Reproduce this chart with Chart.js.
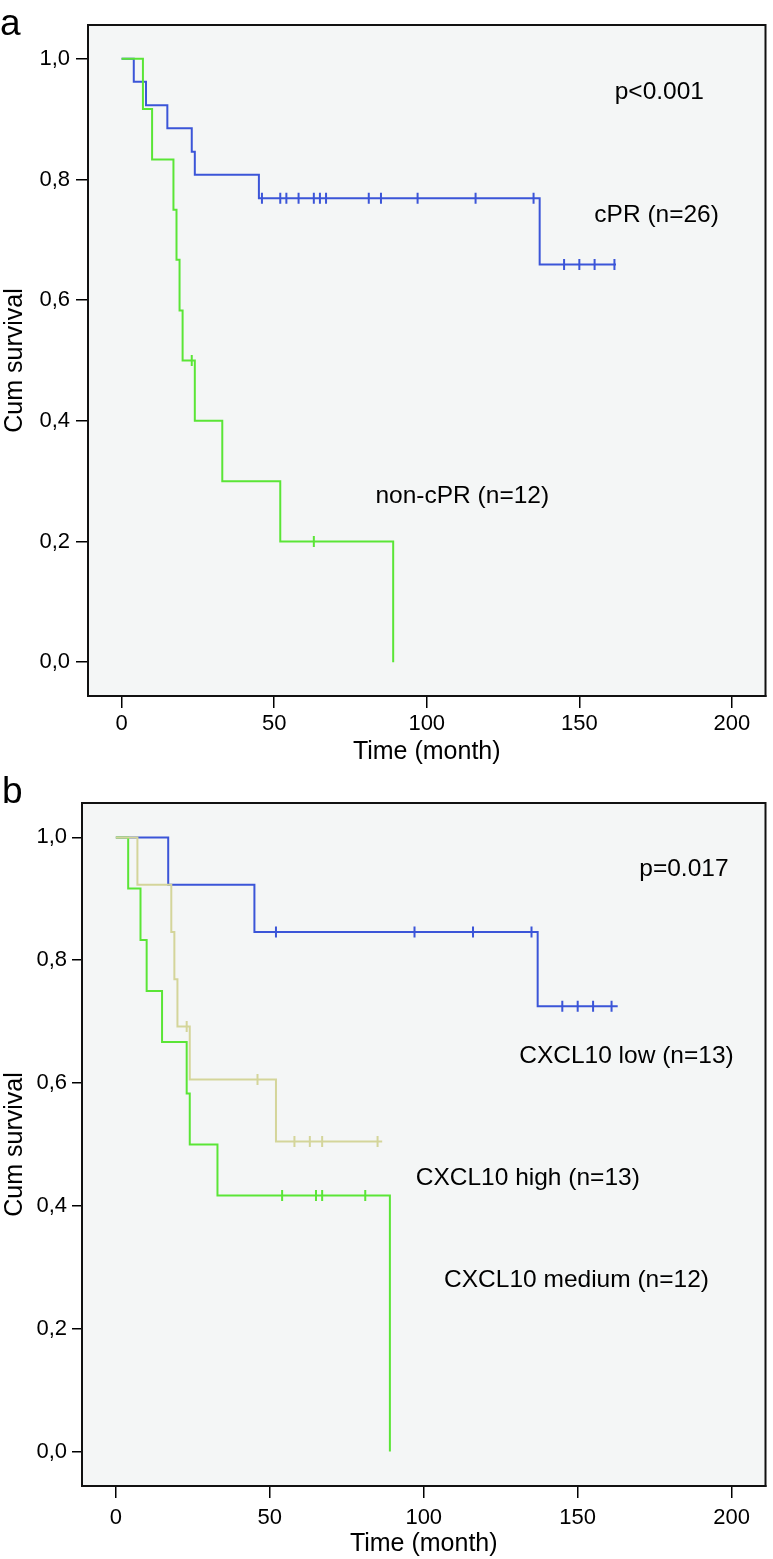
<!DOCTYPE html>
<html><head><meta charset="utf-8">
<script src="https://cdn.jsdelivr.net/npm/chart.js@4.4.1/dist/chart.umd.min.js"></script>
<style>
html,body{margin:0;padding:0;background:#fff;width:773px;height:1559px;overflow:hidden}
#wa{position:absolute;left:0;top:0;width:773px;height:770px}
#wb{position:absolute;left:0;top:770px;width:773px;height:789px}
</style></head><body>
<div id="wa"><canvas id="ca" width="773" height="770"></canvas></div>
<div id="wb"><canvas id="cb" width="773" height="789"></canvas></div>
<script>
// ---- tick labels ----
const xTicks = [0, 50, 100, 150, 200];
const yTicks = [0, 0.2, 0.4, 0.6, 0.8, 1.0];

// ---- Panel a: cPR (n=26) ----
const cprTimes = [0, 4, 8, 15, 23, 24, 45, 137, 162];
const cprSurv  = [1, 0.962, 0.923, 0.885, 0.846, 0.808, 0.769, 0.659, 0.659];
const cprCensTimes = [46, 52, 54, 58, 63, 65, 67, 81, 85, 97, 116, 135, 145, 150, 155, 161.5];
const cprCensSurv  = [0.769, 0.769, 0.769, 0.769, 0.769, 0.769, 0.769, 0.769, 0.769, 0.769, 0.769, 0.769, 0.659, 0.659, 0.659, 0.659];

// ---- Panel a: non-cPR (n=12) ----
const noncprTimes = [0, 7, 10, 17, 18, 19, 20, 24, 33, 52, 89];
const noncprSurv  = [1, 0.917, 0.833, 0.75, 0.667, 0.583, 0.5, 0.4, 0.3, 0.2, 0];
const noncprCensTimes = [23, 63];
const noncprCensSurv  = [0.5, 0.2];

// ---- Panel b: CXCL10 low (n=13) ----
const lowTimes = [0, 17, 45, 137, 163];
const lowSurv  = [1, 0.923, 0.846, 0.725, 0.725];
const lowCensTimes = [52, 97, 116, 135, 145, 150, 155, 161];
const lowCensSurv  = [0.846, 0.846, 0.846, 0.846, 0.725, 0.725, 0.725, 0.725];

// ---- Panel b: CXCL10 high (n=13) ----
const highTimes = [0, 7, 18, 19, 20, 24, 52, 86.5];
const highSurv  = [1, 0.923, 0.846, 0.769, 0.692, 0.606, 0.505, 0.505];
const highCensTimes = [23, 46, 58, 63, 67, 85];
const highCensSurv  = [0.692, 0.606, 0.505, 0.505, 0.505, 0.505];

// ---- Panel b: CXCL10 medium (n=12) ----
const medTimes = [0, 4, 8, 10, 15, 23, 24, 33, 89];
const medSurv  = [1, 0.917, 0.833, 0.75, 0.667, 0.583, 0.5, 0.417, 0];
const medCensTimes = [54, 65, 67, 81];
const medCensSurv  = [0.417, 0.417, 0.417, 0.417];

const FONT = '"Liberation Sans", Arial, Helvetica, sans-serif';
const BLUE = '#3b55d8';
const GREEN = '#5ae536';
const TAN = '#d4d59a';
const BG = '#f4f6f6';

function pts(xs, ys) { return xs.map((x, i) => ({x: x, y: ys[i]})); }

function curve(xs, ys, color, order) {
  return { type: 'line', data: pts(xs, ys), borderColor: color, borderWidth: 2,
    stepped: 'before', pointRadius: 0, fill: false, order: order, tension: 0 };
}
function censors(xs, ys, color, order) {
  return { type: 'scatter', data: pts(xs, ys), borderColor: color, backgroundColor: color,
    pointStyle: 'line', rotation: 90, pointRadius: 5.5, borderWidth: 2, showLine: false, order: order };
}

const framePlugin = {
  id: 'frame',
  beforeDraw(chart) {
    const {ctx, chartArea: a} = chart;
    ctx.save();
    ctx.fillStyle = BG;
    ctx.fillRect(a.left, a.top, a.right - a.left, a.bottom - a.top);
    ctx.restore();
  },
  afterDraw(chart) {
    const {ctx, chartArea: a} = chart;
    const o = chart.options.plugins.frame;
    ctx.save();
    ctx.strokeStyle = '#111';
    ctx.lineWidth = 2;
    ctx.strokeRect(a.left, a.top, a.right - a.left, a.bottom - a.top);
    ctx.fillStyle = '#000';
    ctx.textBaseline = 'alphabetic';
    ctx.textAlign = 'left';
    ctx.font = '24.5px ' + FONT;
    for (const t of o.texts) {
      ctx.fillText(t.text, chart.scales.x.getPixelForValue(t.x), chart.scales.y.getPixelForValue(t.y));
    }
    ctx.font = '37px ' + FONT;
    ctx.fillText(o.letter, o.letterX, o.letterY);
    ctx.restore();
  }
};

function scalesCfg(c) {
  return {
    x: {
      type: 'linear', min: -11, max: 211,
      afterBuildTicks: s => { s.ticks = xTicks.map(v => ({value: v})); },
      afterFit: s => { s.height = c.xh; },
      grid: {drawOnChartArea: false, drawTicks: true, tickLength: 12, color: '#000', lineWidth: 1.5},
      border: {display: true, color: '#111', width: 2},
      ticks: {font: {family: FONT, size: 22}, color: '#000', padding: c.xpad, maxRotation: 0,
              autoSkip: false, callback: v => String(v)},
      title: {display: true, text: 'Time (month)', font: {family: FONT, size: 25}, color: '#000',
              padding: {top: 0, bottom: c.tpad}}
    },
    y: {
      type: 'linear', min: -0.056, max: 1.056,
      afterBuildTicks: s => { s.ticks = yTicks.map(v => ({value: v})); },
      afterFit: s => { s.width = c.yw; },
      grid: {drawOnChartArea: false, drawTicks: true, tickLength: c.ytl, color: '#000', lineWidth: 1.5},
      border: {display: true, color: '#111', width: 2},
      ticks: {font: {family: FONT, size: 22}, color: '#000', padding: c.ypad, autoSkip: false,
              callback: v => Number(v).toFixed(1).replace('.', ',')},
      title: {display: true, text: 'Cum survival', font: {family: FONT, size: 25}, color: '#000',
              padding: {top: 0, bottom: 0}}
    }
  };
}

new Chart(document.getElementById('ca'), {
  type: 'line',
  data: { datasets: [
    censors(noncprCensTimes, noncprCensSurv, GREEN, 0),
    censors(cprCensTimes, cprCensSurv, BLUE, 0),
    curve(noncprTimes, noncprSurv, GREEN, 1),
    curve(cprTimes, cprSurv, BLUE, 2)
  ]},
  options: {
    responsive: false, animation: false, devicePixelRatio: 1,
    layout: {padding: {top: 25, right: 3, left: 0, bottom: 0}},
    scales: scalesCfg({xh: 74, xpad: 3, tpad: 3, yw: 88, ytl: 12, ypad: 6}),
    plugins: {
      legend: {display: false}, tooltip: {enabled: false},
      frame: {
        letter: 'a', letterX: 0, letterY: 35,
        texts: [
          {text: 'p<0.001', x: 161.6, y: 0.934},
          {text: 'cPR (n=26)', x: 154.9, y: 0.729},
          {text: 'non-cPR (n=12)', x: 83.2, y: 0.264}
        ]
      }
    }
  },
  plugins: [framePlugin]
});

new Chart(document.getElementById('cb'), {
  type: 'line',
  data: { datasets: [
    censors(highCensTimes, highCensSurv, TAN, 0),
    censors(medCensTimes, medCensSurv, GREEN, 0),
    censors(lowCensTimes, lowCensSurv, BLUE, 0),
    curve(highTimes, highSurv, TAN, 1),
    curve(medTimes, medSurv, GREEN, 2),
    curve(lowTimes, lowSurv, BLUE, 3)
  ]},
  options: {
    responsive: false, animation: false, devicePixelRatio: 1,
    layout: {padding: {top: 33, right: 6.5, left: 0, bottom: 0}},
    scales: scalesCfg({xh: 73, xpad: 7, tpad: 0, yw: 82, ytl: 10, ypad: 5}),
    plugins: {
      legend: {display: false}, tooltip: {enabled: false},
      frame: {
        letter: 'b', letterX: 2, letterY: 33,
        texts: [
          {text: 'p=0.017', x: 170, y: 0.9377},
          {text: 'CXCL10 low (n=13)', x: 131, y: 0.632},
          {text: 'CXCL10 high (n=13)', x: 97.4, y: 0.4337},
          {text: 'CXCL10 medium (n=12)', x: 106.6, y: 0.2678}
        ]
      }
    }
  },
  plugins: [framePlugin]
});
</script>
</body></html>
